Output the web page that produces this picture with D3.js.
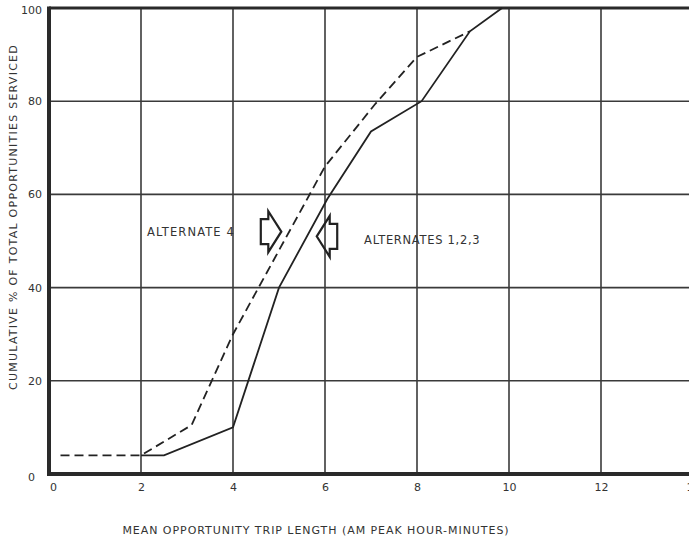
<!DOCTYPE html>
<html>
<head>
<meta charset="utf-8">
<script src="https://cdn.jsdelivr.net/npm/d3@7"></script>
<style>
  body { margin: 0; background: #fff; }
  text { font-family: "DejaVu Sans", sans-serif; fill: #333; }
</style>
</head>
<body>
<svg id="chart" width="689" height="541"></svg>
<script>
// values
const xTicks = [0, 2, 4, 6, 8, 10, 12, 14];
const yTicks = [0, 20, 40, 60, 80, 100];

const alt123 = [
    { x: 2, y: 4 }, { x: 2.5, y: 4 }, { x: 4, y: 10 }, { x: 5, y: 40 },
    { x: 6.05, y: 59 }, { x: 7, y: 73.5 }, { x: 8.1, y: 80 },
    { x: 9.15, y: 95 }, { x: 9.85, y: 100 }
];
const alt4 = [
    { x: 0.25, y: 4 }, { x: 2, y: 4 }, { x: 3.1, y: 10.5 }, { x: 4, y: 30 },
    { x: 5, y: 48 }, { x: 6, y: 66 }, { x: 7.1, y: 79.5 }, { x: 8, y: 89.5 },
    { x: 9.15, y: 95 }
];

const labelAlt4 = 'ALTERNATE 4';
const labelAlt123 = 'ALTERNATES 1,2,3';
const xTitle = 'MEAN OPPORTUNITY TRIP LENGTH (AM PEAK HOUR-MINUTES)';
const yTitle = 'CUMULATIVE % OF TOTAL OPPORTUNITIES SERVICED';

const svg = d3.select('#chart');
const plot = { left: 49, top: 8, bottom: 474, right: 689 };

const x = d3.scaleLinear().domain([0, 14]).range([plot.left, 693]);
const y = d3.scaleLinear().domain([0, 100]).range([plot.bottom, plot.top]);

// grid
svg.append('g')
    .attr('stroke', '#3a3a3a')
    .attr('stroke-width', 1.6)
    .selectAll('line')
    .data(xTicks.filter(d => d > 0))
    .join('line')
    .attr('x1', d => x(d)).attr('x2', d => x(d))
    .attr('y1', plot.top).attr('y2', plot.bottom);

svg.append('g')
    .attr('stroke', '#3a3a3a')
    .attr('stroke-width', 1.6)
    .selectAll('line')
    .data(yTicks.filter(d => d > 0 && d < 100))
    .join('line')
    .attr('x1', plot.left).attr('x2', plot.right)
    .attr('y1', d => y(d)).attr('y2', d => y(d));

// frame
svg.append('line').attr('x1', plot.left).attr('x2', plot.right).attr('y1', y(100)).attr('y2', y(100))
    .attr('stroke', '#2a2a2a').attr('stroke-width', 3);
svg.append('line').attr('x1', plot.left).attr('x2', plot.right).attr('y1', y(0)).attr('y2', y(0))
    .attr('stroke', '#2a2a2a').attr('stroke-width', 4);
svg.append('line').attr('x1', x(0)).attr('x2', x(0)).attr('y1', y(100) - 1.5).attr('y2', y(0) + 2)
    .attr('stroke', '#2a2a2a').attr('stroke-width', 4);

// tick labels
const xAxis = svg.append('g')
    .attr('transform', `translate(0,${plot.bottom})`)
    .call(d3.axisBottom(x).tickValues(xTicks).tickSize(0).tickPadding(9).tickFormat(d3.format('d')));
xAxis.select('.domain').remove();
xAxis.selectAll('text').attr('font-size', 11).attr('font-family', '"DejaVu Sans", sans-serif').attr('fill', '#333');
xAxis.selectAll('.tick').filter(d => d === 0).select('text').attr('dx', 4);

const yAxis = svg.append('g')
    .attr('transform', `translate(${plot.left},0)`)
    .call(d3.axisLeft(y).tickValues(yTicks).tickSize(0).tickPadding(7).tickFormat(d3.format('d')));
yAxis.select('.domain').remove();
yAxis.selectAll('text').attr('font-size', 11).attr('font-family', '"DejaVu Sans", sans-serif').attr('fill', '#333');
yAxis.selectAll('.tick').filter(d => d === 0).select('text').attr('dx', -7).attr('dy', '0.6em');
yAxis.selectAll('.tick').filter(d => d === 100).select('text').attr('dy', '0.5em');

// series
const line = d3.line().x(d => x(d.x)).y(d => y(d.y));

svg.append('path')
    .datum(alt4)
    .attr('d', line)
    .attr('fill', 'none')
    .attr('stroke', '#222')
    .attr('stroke-width', 1.8)
    .attr('stroke-dasharray', '9,5');

svg.append('path')
    .datum(alt123)
    .attr('d', line)
    .attr('fill', 'none')
    .attr('stroke', '#222')
    .attr('stroke-width', 1.8);

// block arrows (tip, pointing direction)
function blockArrow(tx, ty, dir) {
    const px = x(tx), py = y(ty);
    const headLen = 13 * dir, headH = 20.5, stemLen = 7.5 * dir, stemH = 12.5;
    const pts = [
        [px, py],
        [px - headLen, py - headH],
        [px - headLen, py - stemH],
        [px - headLen - stemLen, py - stemH],
        [px - headLen - stemLen, py + stemH],
        [px - headLen, py + stemH],
        [px - headLen, py + headH]
    ];
    svg.append('path')
        .attr('d', d3.line()(pts) + 'Z')
        .attr('fill', 'none')
        .attr('stroke', '#222')
        .attr('stroke-width', 2.2)
        .attr('stroke-linejoin', 'miter');
}
blockArrow(5.05, 52, 1);
blockArrow(5.82, 51, -1);

svg.append('text')
    .attr('x', x(2.13)).attr('y', y(52) + 4)
    .attr('font-size', 11.5)
    .attr('letter-spacing', 1.1)
    .text(labelAlt4);

svg.append('text')
    .attr('x', x(6.85)).attr('y', y(50.5) + 5)
    .attr('font-size', 11.5)
    .attr('letter-spacing', 0.7)
    .text(labelAlt123);

// axis titles
svg.append('text')
    .attr('x', 316).attr('y', 534)
    .attr('text-anchor', 'middle')
    .attr('font-size', 11)
    .attr('letter-spacing', 0.95)
    .text(xTitle);

svg.append('text')
    .attr('transform', 'translate(17,217) rotate(-90)')
    .attr('text-anchor', 'middle')
    .attr('font-size', 11)
    .attr('letter-spacing', 1.25)
    .text(yTitle);
</script>
</body>
</html>
